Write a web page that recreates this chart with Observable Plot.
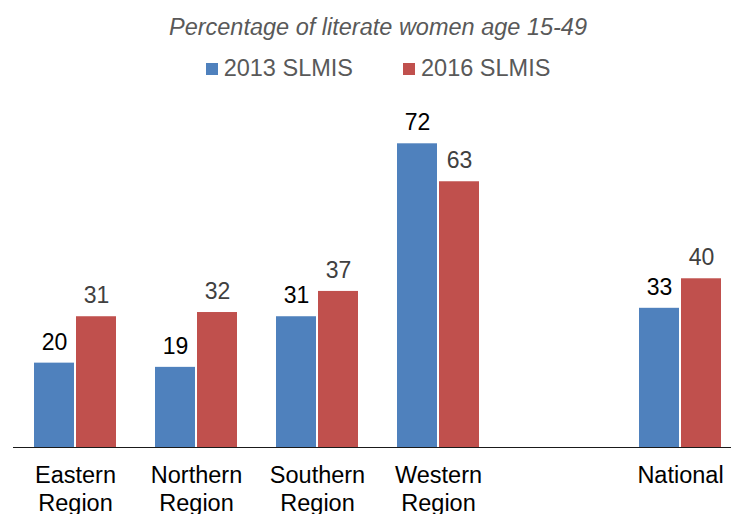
<!DOCTYPE html>
<html>
<head>
<meta charset="utf-8">
<script src="https://cdn.jsdelivr.net/npm/d3@7"></script>
<script src="https://cdn.jsdelivr.net/npm/@observablehq/plot@0.6"></script>
<style>
  html, body { margin: 0; padding: 0; background: #fff; overflow: hidden; }
  body { width: 731px; height: 514px; position: relative; font-family: "Liberation Sans", Arial, sans-serif; }
  #title { position: absolute; left: 0; top: 13px; width: 756px; text-align: center; font-style: italic; font-size: 23.5px; color: #595959; line-height: 28px; }
  #legend { position: absolute; left: 0; top: 54px; width: 756px; text-align: center; font-size: 23.5px; color: #595959; line-height: 28px; }
  #legend .item { display: inline-block; margin: 0 25px; }
  #legend .sw { display: inline-block; width: 12px; height: 12px; margin-right: 6px; vertical-align: 1px; }
  #chart { position: absolute; left: 0; top: 0; }
</style>
</head>
<body>
<div id="title">Percentage of literate women age 15-49</div>
<div id="legend"></div>
<div id="chart"></div>
<script>
const regions = ["Eastern Region", "Northern Region", "Southern Region", "Western Region", "", "National"];
const dataRegions = ["Eastern Region", "Northern Region", "Southern Region", "Western Region", "National"];
const values2013 = [20, 19, 31, 72, 33];
const values2016 = [31, 32, 37, 63, 40];
const seriesNames = ["2013 SLMIS", "2016 SLMIS"];
const seriesColors = ["#4F81BD", "#C0504D"];

const rows = dataRegions.map((r, i) => ({region: r, v2013: values2013[i], v2016: values2016[i]}));

const legend = document.getElementById("legend");
seriesNames.forEach((n, i) => {
  const item = document.createElement("span");
  item.className = "item";
  item.innerHTML = `<span class="sw" style="background:${seriesColors[i]}"></span>${n}`;
  legend.appendChild(item);
});

const chart = Plot.plot({
  width: 731,
  height: 514,
  marginLeft: 13,
  marginRight: 0,
  marginTop: 100,
  marginBottom: 67,
  style: {fontFamily: "'Liberation Sans', Arial, sans-serif", background: "transparent", overflow: "visible"},
  x: {type: "band", domain: regions, range: [13.5, 742], paddingInner: 0.3245, paddingOuter: 0.162, align: 0.5, label: null},
  y: {domain: [0, 72], range: [447, 143.3], axis: null},
  marks: [
    Plot.barY(rows, {x: "region", y: "v2013", fill: seriesColors[0], insetRight: 42}),
    Plot.barY(rows, {x: "region", y: "v2016", fill: seriesColors[1], insetLeft: 42}),
    Plot.ruleY([0], {stroke: "#1a1a1a", strokeWidth: 1.2}),
    Plot.text(rows, {x: "region", y: "v2013", text: d => String(d.v2013), dx: -21, dy: -21, fontSize: 23, fill: "#000"}),
    Plot.text(rows, {x: "region", y: "v2016", text: d => String(d.v2016), dx: 21, dy: -21, fontSize: 23, fill: "#404040"}),
    Plot.axisX({label: null, tickSize: 0, tickPadding: 15, fontSize: 23.5, lineHeight: 1.2, fill: "#000", tickFormat: d => d.replace(" ", "\n")})
  ]
});
document.getElementById("chart").appendChild(chart);
</script>
</body>
</html>
